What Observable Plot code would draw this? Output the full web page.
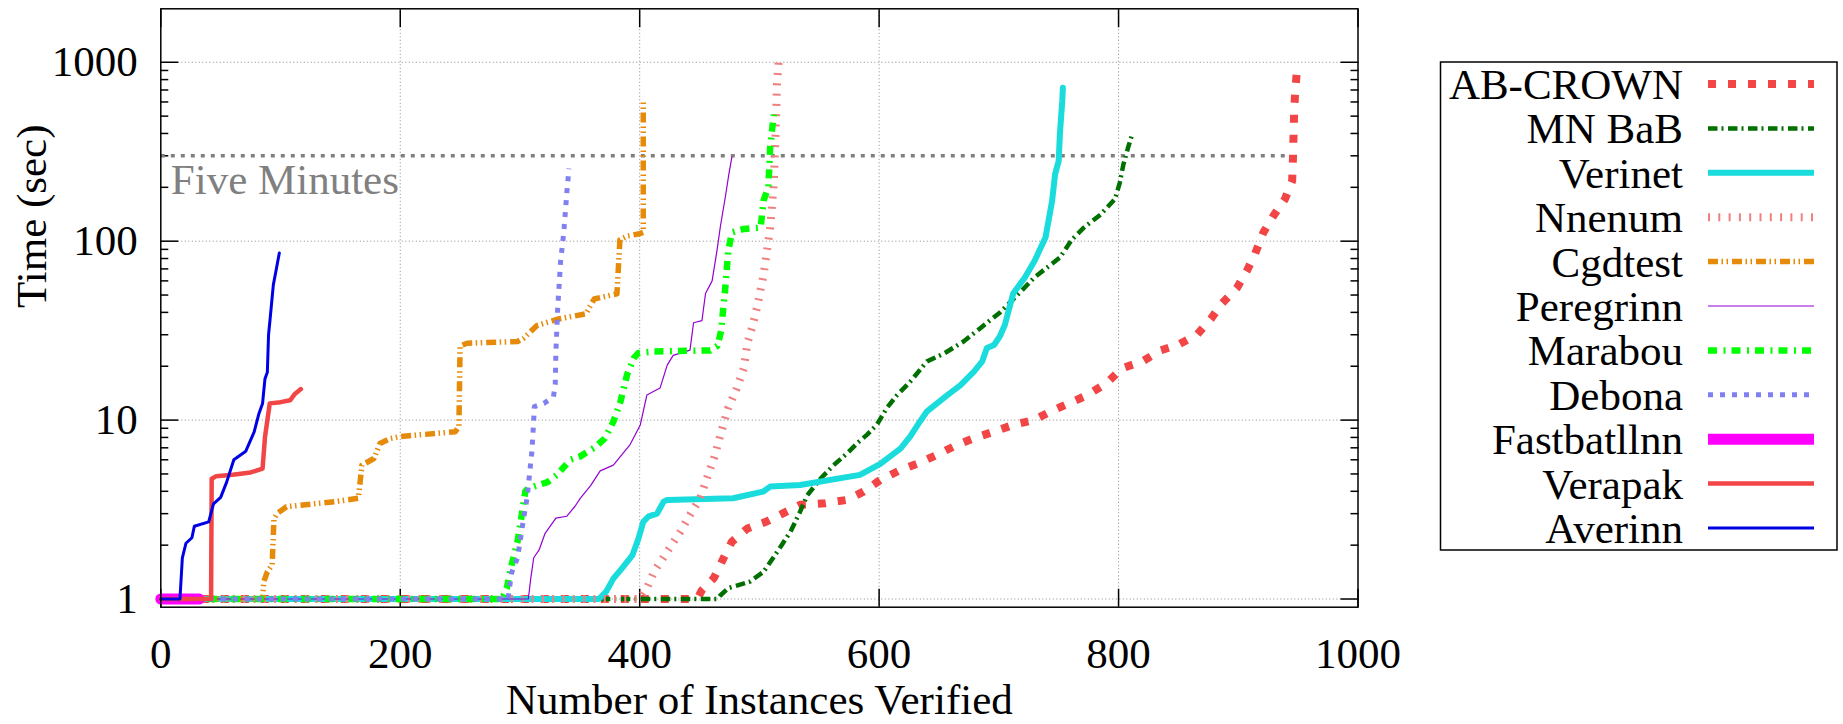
<!DOCTYPE html>
<html>
<head>
<meta charset="utf-8">
<script src="https://cdn.jsdelivr.net/npm/d3@7"></script>
<script src="https://cdn.jsdelivr.net/npm/@observablehq/plot@0.6"></script>
<style>
html, body { margin: 0; padding: 0; background: #fff; overflow: hidden; }
</style>
</head>
<body>
<div id="chart"></div>
<script>
// ---------- series names and styles (legend order = drawing order) ----------
const names   = ["AB-CROWN", "MN BaB", "Verinet", "Nnenum", "Cgdtest", "Peregrinn", "Marabou", "Debona", "Fastbatllnn", "Verapak", "Averinn"];
const colors  = ["#f24545", "#007000", "#1adcdc", "#f08080", "#e68a0a", "#9400d3", "#00ff00", "#8080f0", "#ff00ff", "#f24545", "#0000e6"];
const widths  = [8, 4.5, 6, 8, 5.5, 1.2, 6.5, 5, 11, 4.5, 3];
const dashes  = ["8,12", "9.5,4,2,4.5", null, "2,8.3", "10,3.5,1.5,3.5,1.5,4", null, "9,6.5,2,6", "5,7", null, null, null];

// ---------- data: [instances verified, time (sec)] ----------
const abCrown = [[0,1],[448,1],[452,1.12],[462,1.31],[470,1.69],[477,2.09],[490,2.48],[506,2.71],[520,3.02],[534,3.36],[555,3.43],[573,3.58],[587,3.98],[601,4.63],[618,5.27],[633,5.74],[648,6.38],[665,7.27],[679,7.91],[696,8.62],[712,9.4],[729,10],[746,11.4],[762,12.7],[774,13.8],[790,16.1],[803,19.5],[820,21.3],[835,24.5],[850,26.4],[865.5,30],[877,36.7],[886,44.6],[899,55],[907,68],[914,85],[921,112],[929.5,139],[939,172],[945,217],[945.7,294],[946.2,398],[946.7,537],[947.6,699],[949,900]];
const mnBab = [[0,1],[465,1],[467.5,1.05],[474,1.15],[492,1.25],[503.5,1.42],[515,1.84],[526,2.38],[534,3.08],[540,3.8],[551,4.7],[562,5.6],[573,6.5],[581.5,7.4],[590,8.3],[598,9.4],[606.5,11.7],[615,13.8],[626,16.4],[640,21.3],[654,23.5],[670.5,27.5],[684.5,32.6],[701,40],[718,52],[730,63],[751,81],[761,102],[771,119],[785,141],[797,172],[801,212],[804,268],[808,334],[811,389]];
const verinet = [[0,1],[366,1],[372,1.1],[378,1.3],[385,1.48],[394,1.76],[399,2.18],[403,2.7],[407.5,2.9],[414.5,3.0],[420,3.5],[423,3.58],[478,3.66],[503,3.98],[509,4.25],[534,4.34],[584,4.94],[601,5.7],[618,6.95],[626,8.1],[634,9.8],[640,11.2],[657,13.8],[668,15.7],[679,18.6],[686,21.2],[690,25.3],[696,26.3],[701,29.5],[705,34],[712,51],[722,63],[730,78],[739,105],[744.5,168],[747,237],[750,281],[751,398],[753,610],[753.5,720]];
const nnenum = [[0,1],[400,1],[406,1.15],[412,1.42],[423,1.84],[434,2.38],[442,2.95],[450.5,3.66],[456,4.7],[462,6.1],[467.5,8.3],[474,11.7],[481,15],[487,19.5],[490,27],[494,33],[498,42.6],[503.5,65],[509,119],[512,209],[513.5,400],[514.7,760],[516,1000]];
const cgdtest = [[0,1],[85,1],[86,1.25],[89,1.42],[93,1.55],[94.5,2.8],[97,3.0],[105,3.28],[145,3.5],[165,3.66],[168,5.6],[178,6.1],[183,7.4],[192,7.9],[200,8.1],[246,8.6],[249,9.2],[250,26],[256,26.9],[298,27.5],[303,28.7],[314,33.7],[331,36.6],[355,39.3],[362,47.5],[381,50.8],[382.5,77],[383.5,102],[390,107],[400,110],[403,112],[403,610]];
const peregrinn = [[0,1],[307,1],[309,1.3],[311.5,1.7],[316,1.88],[321,2.33],[330,2.83],[339,2.9],[346,3.3],[350.5,3.66],[359,4.3],[367,5.2],[378,5.6],[392,7.3],[400.5,9.4],[406,13.8],[417,15.1],[423,20.3],[428,23],[442,24.6],[445,35],[452,36],[455,51],[460.5,60],[464.5,88],[467.5,122],[471.5,176],[474.5,237],[477,295]];
const marabou = [[0,1],[285,1],[289,1.15],[293,1.55],[298,2.1],[302,3.1],[304.5,4.0],[307,4.16],[323,4.5],[331,4.95],[342,6.0],[350,6.25],[362,7.0],[371,7.9],[378,9.8],[384,12.7],[389.5,18],[395,22.2],[399,23.7],[412,24.2],[459,24.5],[465,26],[468,31.5],[471.5,55],[474,88],[477,112],[487,117],[501,119],[503.5,169],[507.5,200],[509,335],[512,510]];
const debona = [[0,1],[290,1],[293,1.4],[298,1.7],[303,2.8],[306,3.7],[307,4.3],[310,6.7],[311.5,10],[312,11.9],[320,12.4],[328,13.5],[329.5,16],[330,24],[331.5,42],[334,78],[336.5,110],[339.5,200],[341,255]];
const fastbatllnn = [[0,1],[32,1]];
const verapak = [[0,1],[41,1],[42,1],[42.5,4.7],[46,4.85],[60,4.95],[75,5.1],[85,5.35],[87,8],[91,12.4],[100,12.6],[108,12.9],[112,14],[117,14.9]];
const averinn = [[0,1],[16,1],[18,1.7],[21,2.05],[26,2.2],[28,2.55],[40,2.7],[44,3.4],[50,3.7],[55,4.5],[61,6.0],[71,6.7],[78,8.6],[82,10.9],[85,12.4],[87,17],[89,18.5],[90,30],[91,35],[94,57],[96,67],[99,86]];
const seriesData = [abCrown, mnBab, verinet, nnenum, cgdtest, peregrinn, marabou, debona, fastbatllnn, verapak, averinn];

// five-minute reference
const fiveMinLabel = "Five Minutes";
const fiveMinLine = [[0,300],[940,300]];

// ---------- axes ----------
const xTicks = [0, 200, 400, 600, 800, 1000];
const xGrid = [200, 400, 600, 800];
const yTicks = [1, 10, 100, 1000];
const yMinor = [2,3,4,5,6,7,8,9,20,30,40,50,60,70,80,90,200,300,400,500,600,700,800,900];
const xLabel = "Number of Instances Verified";
const yLabel = "Time (sec)";

const FONT = "'Liberation Serif', 'DejaVu Serif', 'Times New Roman', serif";
const FS = 43;

const lineMarks = seriesData.map((d, i) => Plot.line(d, {
  x: p => p[0], y: p => p[1],
  stroke: colors[i], strokeWidth: widths[i],
  strokeDasharray: dashes[i] ?? undefined,
  strokeLinecap: dashes[i] ? "butt" : "round",
  strokeLinejoin: "round",
  curve: "linear"
}));

const tickStyle = {tickFormat: () => "", label: null, strokeWidth: 1.5, stroke: "black"};

const plot = Plot.plot({
  width: 1843,
  height: 724,
  marginLeft: 160.3,
  marginRight: 485.5,
  marginTop: 8.3,
  marginBottom: 117.3,
  style: {fontFamily: FONT, fontSize: FS + "px", color: "black", background: "white"},
  x: {type: "linear", domain: [0, 1000]},
  y: {type: "log", domain: [0.9, 1990]},
  marks: [
    Plot.gridX(xGrid, {stroke: "#8a8a8a", strokeOpacity: 1, strokeWidth: 1, strokeDasharray: "1,2.5"}),
    Plot.gridY(yTicks, {stroke: "#8a8a8a", strokeOpacity: 1, strokeWidth: 1, strokeDasharray: "1,2.5"}),
    // inward ticks
    Plot.axisY(yTicks, {anchor: "left", tickSize: 18, dx: 18, ...tickStyle}),
    Plot.axisY(yMinor, {anchor: "left", tickSize: 8, dx: 8, ...tickStyle}),
    Plot.axisY(yTicks, {anchor: "right", tickSize: 18, dx: -18, ...tickStyle}),
    Plot.axisY(yMinor, {anchor: "right", tickSize: 8, dx: -8, ...tickStyle}),
    Plot.axisX(xTicks, {anchor: "bottom", tickSize: 18, dy: -18, ...tickStyle}),
    Plot.axisX(xTicks, {anchor: "top", tickSize: 18, dy: 18, ...tickStyle}),
    // tick labels
    Plot.axisY(yTicks, {anchor: "left", tickSize: 0, tickPadding: 23, tickFormat: d => String(d), label: null, fontSize: FS, fontFamily: FONT}),
    Plot.axisX(xTicks, {anchor: "bottom", tickSize: 0, tickPadding: 30, tickFormat: d => String(d), label: null, fontSize: FS, fontFamily: FONT}),
    // axis titles
    Plot.text([xLabel], {text: d => d, frameAnchor: "bottom", dy: 93, fontSize: FS, fontFamily: FONT, fill: "black", lineAnchor: "middle"}),
    Plot.text([yLabel], {text: d => d, frameAnchor: "left", dx: -129, rotate: -90, fontSize: FS, fontFamily: FONT, fill: "black", lineAnchor: "middle"}),
    // five minutes reference line
    Plot.line(fiveMinLine, {x: p => p[0], y: p => p[1], stroke: "#808080", strokeWidth: 3.5, strokeDasharray: "4,6", strokeLinecap: "butt"}),
    Plot.text([fiveMinLine[0]], {x: p => p[0], y: p => p[1], text: () => fiveMinLabel, dx: 10, dy: 24, textAnchor: "start", lineAnchor: "middle", fill: "#808080", fontSize: FS, fontFamily: FONT}),
    ...lineMarks,
    Plot.frame({stroke: "black", strokeWidth: 1.5})
  ]
});

document.getElementById("chart").appendChild(plot);

// ---------- legend (drawn into the same SVG) ----------
const svg = d3.select(plot);
const lg = svg.append("g").attr("class", "legend");
const box = {x: 1440.5, y: 62, w: 396.5, h: 488};
lg.append("rect")
  .attr("x", box.x).attr("y", box.y).attr("width", box.w).attr("height", box.h)
  .attr("fill", "white").attr("stroke", "black").attr("stroke-width", 1.5);
const rowH = 44.4, firstRow = 84;
names.forEach((n, i) => {
  const cy = firstRow + i * rowH;
  lg.append("text")
    .attr("x", 1683).attr("y", cy).attr("dy", "0.35em")
    .attr("text-anchor", "end")
    .attr("font-family", FONT).attr("font-size", FS)
    .attr("fill", "black")
    .text(n);
  lg.append("line")
    .attr("x1", 1708).attr("x2", 1814).attr("y1", cy).attr("y2", cy)
    .attr("stroke", colors[i]).attr("stroke-width", widths[i])
    .attr("stroke-dasharray", dashes[i] || null)
    .attr("stroke-linecap", "butt");
});
</script>
</body>
</html>
